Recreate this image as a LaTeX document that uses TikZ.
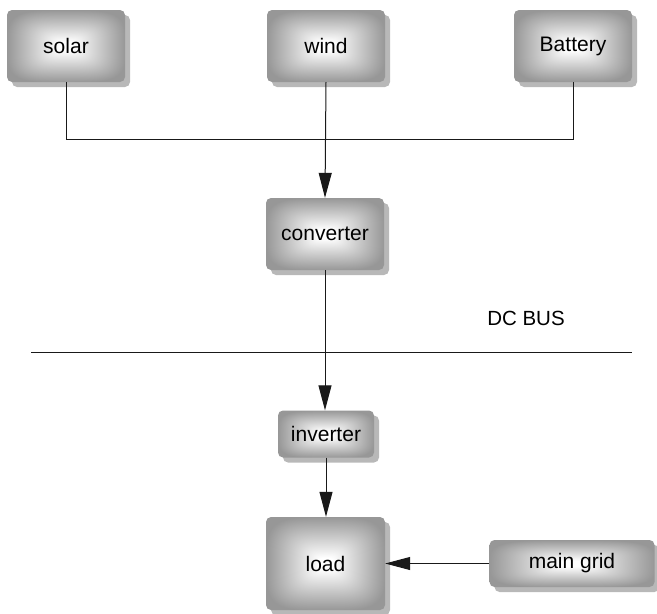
\documentclass[tikz,border=0pt]{standalone}
\usepackage{fontspec}
\setmainfont{Liberation Sans}
\usetikzlibrary{arrows.meta,shadows}
\pgfdeclarefunctionalshading{glow}{\pgfpoint{-50bp}{-50bp}}{\pgfpoint{50bp}{50bp}}{}{
 abs 25 div dup mul dup mul
 exch abs 25 div dup mul dup mul add sqrt sqrt
 0.12 sub 0.8 div
 dup 0 lt {pop 0} if
 dup 1.1 gt {pop 1.1} if
 0.37 mul 1 exch sub
 dup dup
}
\tikzset{
  unit/.style={shade, shading=glow, rounded corners=5pt, inner sep=0pt,
    font=\fontsize{21}{24}\selectfont,
    drop shadow={shadow xshift=5pt, shadow yshift=-5pt, fill=black!28, opacity=1}},
  conn/.style={line width=1pt, draw=black!90},
  arr/.style={conn, -{Triangle[length=25pt,width=13pt]}}
}
\begin{document}
\begin{tikzpicture}[x=1pt,y=-1pt]
\useasboundingbox (0,0) rectangle (657,614);
\node[unit, minimum width=118pt, minimum height=72pt] (solar) at (66,46) {solar};
\node[unit, minimum width=118pt, minimum height=72pt] (wind) at (326,46) {wind};
\node[unit, minimum width=118pt, minimum height=72pt] (battery) at (573,46) {Battery};
\node[unit, minimum width=118pt, minimum height=72pt] (converter) at (325,234) {converter};
\node[unit, minimum width=96pt, minimum height=47pt] (inverter) at (326,434) {inverter};
\node[unit, minimum width=119pt, minimum height=93pt] (load) at (325.5,563.5) {load};
\node[unit, minimum width=165pt, minimum height=47pt] (grid) at (572,563.5) {main grid};
\node[font=\fontsize{20.5}{24}\selectfont, inner sep=0pt] (dcbus) at (526,318.5) {DC BUS};
\coordinate (busL) at (31,352);
\coordinate (busR) at (632,352);
\coordinate (join) at (66,139);
\draw[conn] (busL) -- (busR);
\draw[conn] (solar.south) -- (join) -| (battery.south);
\draw[arr] (wind.south) -- (converter.north);
\draw[arr] (converter.south) -- (converter.south |- inverter.north);
\draw[arr] (inverter.south) -- (inverter.south |- load.north);
\draw[arr] (grid.west) -- (load.east);
\end{tikzpicture}
\end{document}
